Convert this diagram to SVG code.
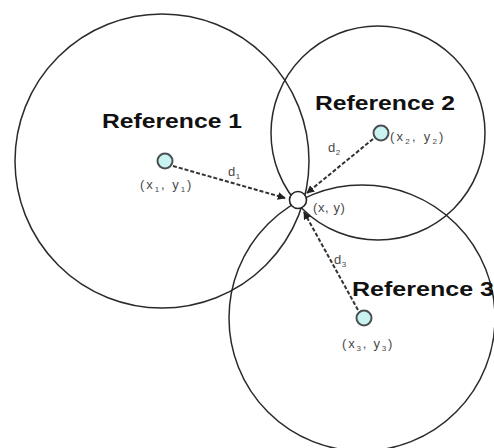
<svg xmlns="http://www.w3.org/2000/svg" width="494" height="448" viewBox="0 0 494 448">
<style>
.ring{fill:none;stroke:#2a2a2a;stroke-width:1.5}
.ref{fill:#c9f2f0;stroke:#4a4f52;stroke-width:2}
.title{font-family:"Liberation Sans",Arial,sans-serif;font-weight:bold;font-size:20px;fill:#111}
.lbl{font-family:"Liberation Sans",Arial,sans-serif;font-size:13px;fill:#4a4a4a;letter-spacing:0.6px}
.sub{font-size:8px}
.conn{fill:none;stroke:#333;stroke-width:2;stroke-dasharray:4 2}
</style>
<defs>
<marker id="ah" viewBox="0 0 10 10" refX="9" refY="5" markerWidth="4" markerHeight="4" orient="auto" markerUnits="strokeWidth">
<path d="M0,0 L10,5 L0,10 z" fill="#222"/>
</marker>
</defs>
<rect width="494" height="448" fill="#fff"/>
<g id="ranges">
<circle class="ring" cx="162" cy="161" r="147"/>
<circle class="ring" cx="378" cy="133" r="107"/>
<circle class="ring" cx="362" cy="318" r="133"/>
</g>
<g id="connectors">
<line class="conn" x1="173" y1="166" x2="285" y2="198" marker-end="url(#ah)"/>
<line class="conn" x1="373" y1="139" x2="307" y2="193" marker-end="url(#ah)"/>
<line class="conn" x1="358" y1="310" x2="304" y2="212" marker-end="url(#ah)"/>
<text class="lbl" x="228" y="176">d<tspan class="sub" dy="3">1</tspan></text>
<text class="lbl" x="328" y="152">d<tspan class="sub" dy="3">2</tspan></text>
<text class="lbl" x="334" y="264">d<tspan class="sub" dy="3">3</tspan></text>
</g>
<g id="reference1">
<circle class="ref" cx="165" cy="161" r="7.5"/>
<text class="title" x="102" y="128" textLength="140" lengthAdjust="spacingAndGlyphs">Reference 1</text>
<text class="lbl" x="140" y="189" textLength="52">(x<tspan class="sub" dy="3">1</tspan><tspan dy="-3">, y</tspan><tspan class="sub" dy="3">1</tspan><tspan dy="-3">)</tspan></text>
</g>
<g id="reference2">
<circle class="ref" cx="381" cy="133" r="7.5"/>
<text class="title" x="315" y="110" textLength="140" lengthAdjust="spacingAndGlyphs">Reference 2</text>
<text class="lbl" x="390" y="141" textLength="54">(x<tspan class="sub" dy="3">2</tspan><tspan dy="-3">, y</tspan><tspan class="sub" dy="3">2</tspan><tspan dy="-3">)</tspan></text>
</g>
<g id="reference3">
<circle class="ref" cx="364" cy="318" r="7.5"/>
<text class="title" x="352" y="296" textLength="142" lengthAdjust="spacingAndGlyphs">Reference 3</text>
<text class="lbl" x="342" y="348" textLength="51">(x<tspan class="sub" dy="3">3</tspan><tspan dy="-3">, y</tspan><tspan class="sub" dy="3">3</tspan><tspan dy="-3">)</tspan></text>
</g>
<g id="target">
<circle cx="298" cy="200" r="8.5" fill="#fff" stroke="#222" stroke-width="1.6"/>
<text class="lbl" x="313" y="212">(x, y)</text>
</g>
</svg>
